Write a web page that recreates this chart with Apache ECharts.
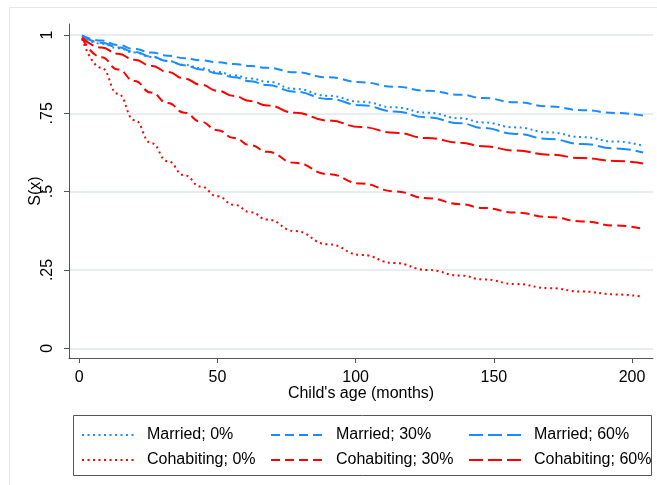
<!DOCTYPE html>
<html>
<head>
<meta charset="utf-8">
<script src="https://cdn.jsdelivr.net/npm/echarts@6/dist/echarts.min.js"></script>
<style>
html,body{margin:0;padding:0;background:#fff;}
#chart{width:657px;height:485px;}
</style>
</head>
<body>
<div id="chart"></div>
<script>
// Child's age (months)
const months = [1, 8, 14, 20, 26, 32, 38, 44, 50, 56, 62, 68, 78, 90, 102, 114, 126, 138, 146, 158, 170, 182, 194, 204];
const married0  = [0.998, 0.972, 0.958, 0.944, 0.930, 0.917, 0.905, 0.894, 0.882, 0.871, 0.861, 0.851, 0.828, 0.806, 0.787, 0.769, 0.752, 0.734, 0.721, 0.705, 0.689, 0.674, 0.660, 0.646];
const married30 = [0.999, 0.982, 0.968, 0.955, 0.944, 0.934, 0.926, 0.919, 0.913, 0.907, 0.901, 0.895, 0.881, 0.865, 0.849, 0.835, 0.822, 0.809, 0.799, 0.785, 0.772, 0.760, 0.751, 0.743];
const married60 = [0.998, 0.975, 0.961, 0.946, 0.931, 0.917, 0.903, 0.890, 0.877, 0.865, 0.852, 0.840, 0.819, 0.796, 0.776, 0.756, 0.737, 0.718, 0.703, 0.684, 0.668, 0.652, 0.638, 0.625];
const cohab0    = [0.987, 0.895, 0.812, 0.728, 0.655, 0.597, 0.552, 0.516, 0.485, 0.458, 0.434, 0.411, 0.374, 0.332, 0.298, 0.272, 0.250, 0.232, 0.220, 0.205, 0.192, 0.181, 0.172, 0.164];
const cohab30   = [0.990, 0.929, 0.890, 0.853, 0.816, 0.783, 0.752, 0.723, 0.696, 0.671, 0.648, 0.627, 0.592, 0.556, 0.526, 0.501, 0.479, 0.460, 0.448, 0.433, 0.419, 0.405, 0.392, 0.381];
const cohab60   = [0.992, 0.960, 0.940, 0.921, 0.902, 0.882, 0.861, 0.841, 0.822, 0.805, 0.789, 0.775, 0.752, 0.727, 0.706, 0.688, 0.671, 0.656, 0.645, 0.631, 0.618, 0.607, 0.598, 0.590];
const seriesNames = ['Married; 0%', 'Married; 30%', 'Married; 60%', 'Cohabiting; 0%', 'Cohabiting; 30%', 'Cohabiting; 60%'];
const xTicks = [0, 50, 100, 150, 200];
const yTicks = [0, 0.25, 0.5, 0.75, 1];
const yTickLabels = ['0', '.25', '.5', '.75', '1'];

const BLUE = '#1a8cff', RED = '#ff0000';
const FONT = 'Liberation Sans, Arial, sans-serif';
const styles = [
  {color: BLUE, dash: [2, 3.5]},
  {color: BLUE, dash: [9, 5]},
  {color: BLUE, dash: [14, 5]},
  {color: RED, dash: [2, 3.5]},
  {color: RED, dash: [9, 5]},
  {color: RED, dash: [14, 5]}
];
const values = [married0, married30, married60, cohab0, cohab30, cohab60];

const series = values.map((vals, i) => ({
  name: seriesNames[i],
  type: 'line',
  data: months.map((m, j) => [m, vals[j]]),
  symbol: 'none',
  showSymbol: false,
  smooth: 0.5,
  smoothMonotone: 'x',
  lineStyle: {color: styles[i].color, width: 2, type: styles[i].dash},
  itemStyle: {color: styles[i].color},
  z: 3
}));

const colLeft = [81, 270, 468];
const rowTop = [427, 452];
const legends = seriesNames.map((n, i) => ({
  data: [n],
  left: colLeft[i % 3],
  top: rowTop[Math.floor(i / 3)],
  orient: 'horizontal',
  itemWidth: 54,
  itemHeight: 14,
  padding: 0,
  selectedMode: false,
  itemStyle: {opacity: 0},
  textStyle: {fontFamily: FONT, fontSize: 16, color: '#000', padding: [0, 0, 0, 6]}
}));

const chart = echarts.init(document.getElementById('chart'), null, {renderer: 'canvas'});
chart.setOption({
  animation: false,
  backgroundColor: '#fff',
  grid: {left: 69, right: 4, top: 24, bottom: 127, containLabel: false},
  xAxis: {
    type: 'value',
    min: -3.73, max: 207.6,
    name: "Child's age (months)",
    nameLocation: 'middle',
    nameGap: 28,
    nameMoveOverlap: false,
    nameTextStyle: {fontFamily: FONT, fontSize: 16, color: '#000'},
    axisLine: {show: true, onZero: false, lineStyle: {color: '#555', width: 1}},
    axisTick: {show: true, length: 5, customValues: xTicks, lineStyle: {color: '#555'}},
    axisLabel: {customValues: xTicks, margin: 12, fontFamily: FONT, fontSize: 16, color: '#000'},
    splitLine: {show: false}
  },
  yAxis: {
    type: 'value',
    min: -0.031, max: 1.035,
    name: 'S(x)',
    nameLocation: 'middle',
    nameGap: 25,
    nameMoveOverlap: false,
    nameTextStyle: {fontFamily: FONT, fontSize: 16, color: '#000'},
    axisLine: {show: true, onZero: false, lineStyle: {color: '#555', width: 1}},
    axisTick: {show: true, length: 5, customValues: yTicks, lineStyle: {color: '#555'}},
    axisLabel: {
      customValues: yTicks, rotate: 90, margin: 13,
      fontFamily: FONT, fontSize: 16, color: '#000',
      formatter: v => { const k = yTicks.findIndex(t => Math.abs(t - v) < 1e-6); return k >= 0 ? yTickLabels[k] : ''; }
    },
    splitLine: {show: true, lineStyle: {color: '#e1e9eb', width: 1.5}}
  },
  legend: legends,
  graphic: [
    {type: 'rect', silent: true, z: -10, shape: {x: 9.5, y: 7.5, width: 700, height: 500}, style: {fill: null, stroke: '#e3eaee', lineWidth: 1}},
    {type: 'rect', silent: true, shape: {x: 73.5, y: 415.5, width: 578, height: 60}, style: {fill: null, stroke: '#555', lineWidth: 1}}
  ],
  series: series
});
</script>
</body>
</html>
